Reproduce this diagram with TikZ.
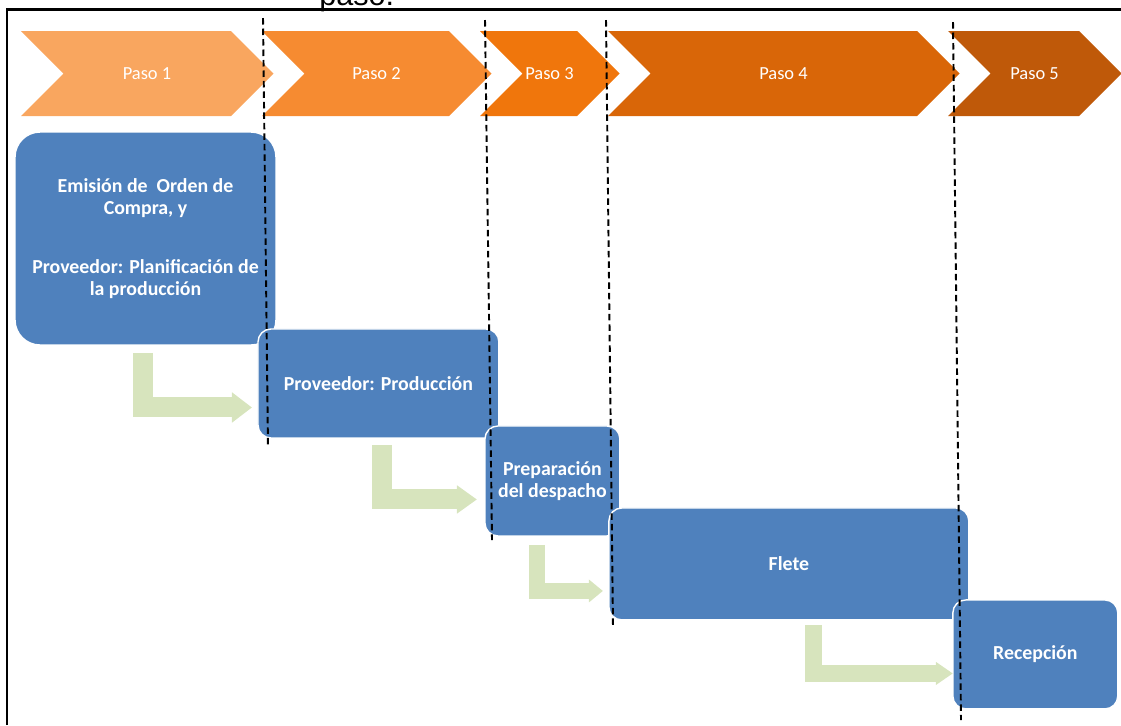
\documentclass[tikz,border=0pt]{standalone}
\usepackage{fontspec}
\setmainfont{Carlito}
\newfontfamily\titlefont{Liberation Sans}
\usetikzlibrary{positioning,calc}
\usetikzlibrary{positioning,arrows.meta}

\definecolor{pasoOne}{HTML}{F9A65F}
\definecolor{pasoTwo}{HTML}{F68B31}
\definecolor{pasoThree}{HTML}{F0760C}
\definecolor{pasoFour}{HTML}{D96608}
\definecolor{pasoFive}{HTML}{BF5909}
\definecolor{stepBlue}{HTML}{4F81BD}
\definecolor{flowGreen}{HTML}{D7E4BD}

\begin{document}
\begin{tikzpicture}[x=0.02cm, y=-0.02cm]
\tikzset{
    pasoLabel/.style={text=white, font=\fontsize{10.5}{12}\selectfont, inner sep=0pt},
    boxStyle/.style={rectangle, fill=stepBlue, draw=white, line width=0.8pt, rounded corners=0.26cm, outer sep=0pt, inner sep=2pt, align=center, text=white, font=\fontsize{11.3}{12.5}\selectfont\bfseries},
    flowArrow/.style={draw=flowGreen, line width=0.4cm, line join=miter, -{Triangle[width=0.58cm,length=0.4cm]}},
    guideLine/.style={black, line width=1.1pt, dash pattern=on 0.13cm off 0.08cm},
    frameLine/.style={black, line width=1.4pt}
}

\useasboundingbox (0,0) rectangle (1121,725);

% pasos
\fill[pasoOne] (21,31) -- (231,31) -- (273.5,73.5) -- (231,116) -- (21,116) -- (63.5,73.5) -- cycle;
\fill[pasoTwo] (262,31) -- (449,31) -- (491.5,73.5) -- (449,116) -- (262,116) -- (304.5,73.5) -- cycle;
\fill[pasoThree] (480,31) -- (577,31) -- (619.5,73.5) -- (577,116) -- (480,116) -- (522.5,73.5) -- cycle;
\fill[pasoFour] (608,31) -- (917,31) -- (959.5,73.5) -- (917,116) -- (608,116) -- (650.5,73.5) -- cycle;
\fill[pasoFive] (948,31) -- (1079,31) -- (1121.5,73.5) -- (1079,116) -- (948,116) -- (990.5,73.5) -- cycle;

\node[pasoLabel] (paso1) at (147,73.5) {Paso 1};
\node[pasoLabel] (paso2) at (376.5,73.5) {Paso 2};
\node[pasoLabel] (paso3) at (549.5,73.5) {Paso 3};
\node[pasoLabel] (paso4) at (783.5,73.5) {Paso 4};
\node[pasoLabel] (paso5) at (1034.5,73.5) {Paso 5};

% etapas
\node[boxStyle, rounded corners=0.5cm, minimum width=5.22cm, minimum height=4.26cm] (orden) at (145.5,238.5)
    {Emisión de\ \ Orden de\\Compra, y\\[0.74cm]Proveedor: Planificación de\\la producción};
\node[boxStyle, minimum width=4.82cm, minimum height=2.18cm, below right=-0.32cm and -0.36cm of orden] (produccion) {Proveedor: Producción};
\node[boxStyle, minimum width=2.7cm, minimum height=2.2cm, below right=-0.24cm and -0.28cm of produccion] (despacho) {Preparación\\del despacho};
\node[boxStyle, minimum width=7.2cm, minimum height=2.24cm, below right=-0.56cm and -0.22cm of despacho] (flete) {Flete};
\node[boxStyle, minimum width=3.3cm, minimum height=2.18cm, below right=-0.4cm and -0.32cm of flete] (recepcion) {Recepción};

\draw[flowArrow] ($(orden.south)+(-2.5,8)$) |- ($(produccion.west)+(-6,24)$);
\draw[flowArrow, -{Triangle[width=0.54cm,length=0.4cm]}] ($(produccion.south)+(4,7)$) |- ($(despacho.west)+(-8,18.5)$);
\draw[flowArrow, line width=0.32cm, -{Triangle[width=0.44cm,length=0.28cm]}] ($(despacho.south)+(-15.5,9)$) |- ($(flete.west)+(-6,27)$);
\draw[flowArrow, line width=0.34cm, -{Triangle[width=0.44cm,length=0.34cm]}] ($(flete.south)+(24.5,5)$) |- ($(recepcion.west)+(0,19)$);

\draw[guideLine] (263,18) -- (268,448);
\draw[guideLine] (485,20) -- (492,540);
\draw[guideLine] (606,20) -- (613,628);
\draw[guideLine] (953,22) -- (961,720);

\draw[frameLine] (7,725) -- (7,9.5) -- (1121,9.5);
\node[anchor=base west, inner sep=0pt, font=\titlefont\fontsize{17.4}{20}\selectfont] (titulo) at (319,5.5) {paso.};

\end{tikzpicture}
\end{document}
